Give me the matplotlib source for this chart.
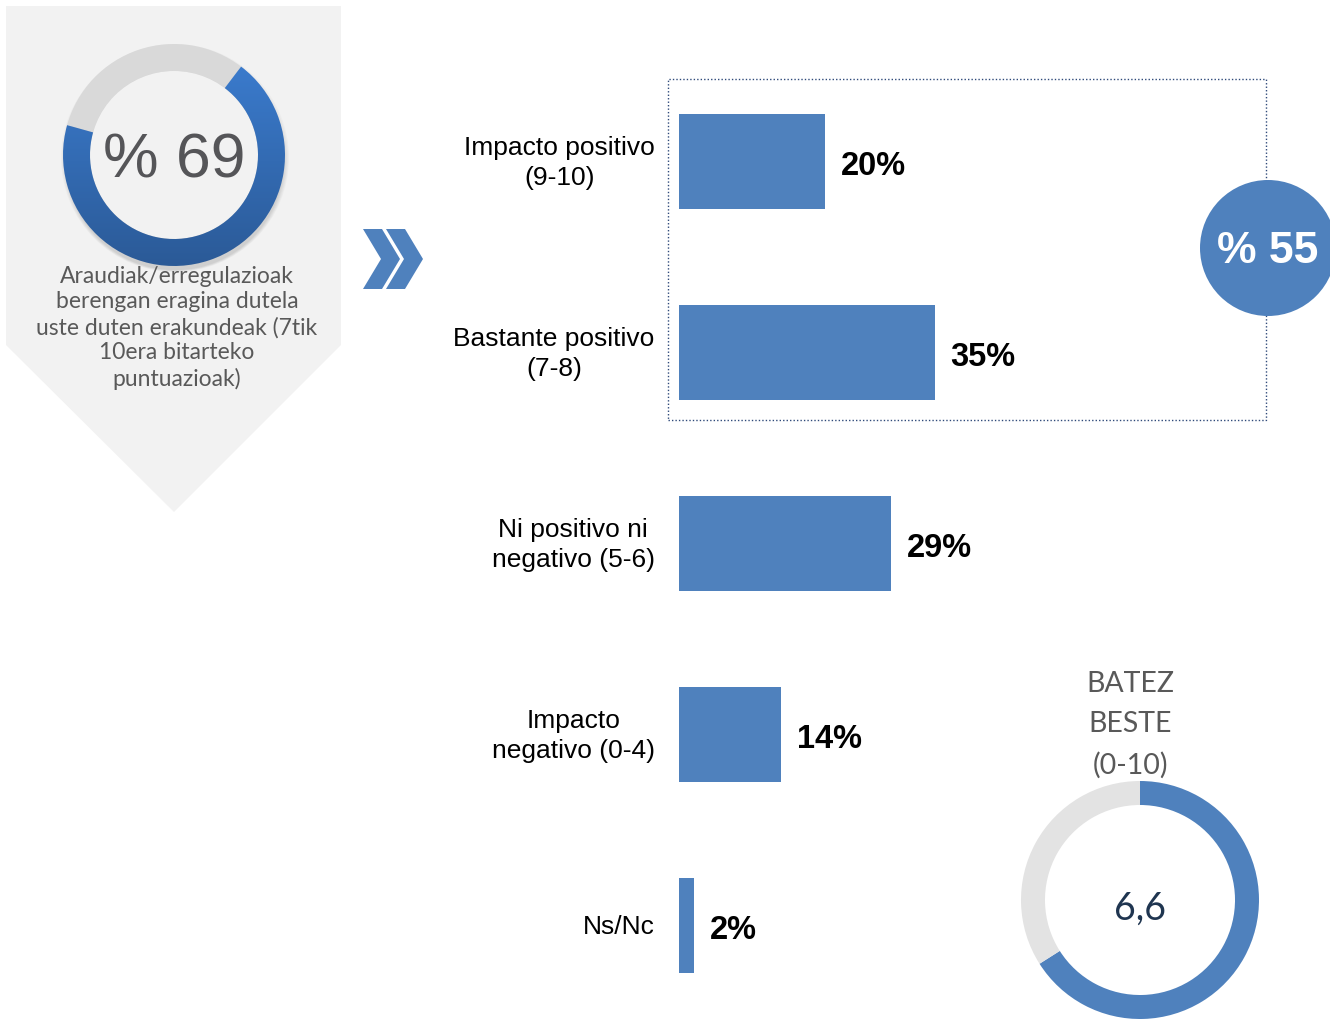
import numpy as np
import matplotlib.pyplot as plt
from matplotlib.patches import Wedge, Circle, Polygon, Rectangle
from matplotlib.colors import LinearSegmentedColormap

# data
categories = ["Impacto positivo\n(9-10)", "Bastante positivo\n(7-8)",
              "Ni positivo ni\nnegativo (5-6)", "Impacto\nnegativo (0-4)", "Ns/Nc"]
values = [20, 35, 29, 14, 2]
share_impact = 69          # % organisations that feel impact (7-10)
share_positive = 55        # 20 + 35
mean_score = 6.6           # 0-10 scale
caption = ("Araudiak/erregulazioak\nberengan eragina dutela\n"
           "uste duten erakundeak (7tik\n10era bitarteko\npuntuazioak)")

W, H = 1330, 1019
BLUE = "#4F81BD"
ARIAL = "Liberation Sans"
GOTHIC = "Lato"


def py(y):
    return H - y


fig = plt.figure(figsize=(W / 100, H / 100), dpi=100)
bg = fig.add_axes([0, 0, 1, 1])
bg.set_xlim(0, W)
bg.set_ylim(0, H)
bg.axis("off")

# left panel (arrow-shaped card)
bg.add_patch(Polygon([(6, py(6)), (341, py(6)), (341, py(345)), (174, py(512)), (6, py(345))],
                     closed=True, fc="#F2F2F2", ec="none"))

# left donut with gradient
cx, cy, r_out, ring = 174, py(155), 111, 27
for k in range(6):
    bg.add_patch(Circle((cx + 1, cy - 3 - k * 0.6), r_out + 3 - k, fc="#000000",
                        alpha=0.025, ec="none"))
start = 52.8
sweep = share_impact / 100 * 360
bg.add_patch(Wedge((cx, cy), r_out, start, start + 360 - sweep, width=ring,
                   fc="#D9D9D9", ec="none"))
blue_w = Wedge((cx, cy), r_out, start - sweep, start, width=ring, fc="none", ec="none")
bg.add_patch(blue_w)
cmap = LinearSegmentedColormap.from_list("g", ["#3C7ED2", "#2B5A97"])
grad = np.linspace(0, 1, 256).reshape(-1, 1)
im = bg.imshow(grad, cmap=cmap, extent=(cx - r_out, cx + r_out, cy - r_out, cy + r_out),
               origin="upper", aspect="auto", zorder=2)
im.set_clip_path(blue_w)
bg.add_patch(Circle((cx, cy), r_out - ring, fc="#F2F2F2", ec="none", zorder=1.5))
bg.text(cx, cy - 6, f"% {share_impact}", ha="center", va="center", fontsize=45,
        family=ARIAL, color="#555558", zorder=3)
bg.text(177, py(328), caption, ha="center", va="center", fontsize=16.5,
        family=GOTHIC, color="#595959", linespacing=1.24)

# double chevron
chev = [(0, 0), (19, 0), (37, 30), (19, 60), (0, 60), (18, 30)]
for dx in (363, 386):
    bg.add_patch(Polygon([(dx + x, py(229 + y)) for x, y in chev], closed=True,
                         fc=BLUE, ec="none"))

# dotted box around positive bars
bg.add_patch(Rectangle((668, py(420)), 598, 341, fill=False, ec="#2F4A7A",
                       lw=1, ls=(0, (1, 1.5))))
# positive share bubble
bg.add_patch(Circle((1268, py(248)), 68, fc=BLUE, ec="none", zorder=3))
bg.text(1268, py(251), f"% {share_positive}", ha="center", va="center",
        fontsize=32, weight="bold", family=ARIAL, color="white", zorder=4)

# mean score donut
mx, my, mr, mring = 1140, py(900), 119, 24
msweep = mean_score / 10 * 360
bg.add_patch(Wedge((mx, my), mr, 90 - msweep, 90, width=mring, fc=BLUE, ec="none"))
bg.add_patch(Wedge((mx, my), mr, 90, 450 - msweep, width=mring, fc="#E3E3E3", ec="none"))
bg.text(mx, my - 9, f"{mean_score:.1f}".replace(".", ","), ha="center", va="center",
        fontsize=27, family=GOTHIC, color="#1F3550")
bg.text(1130, py(725), "BATEZ\nBESTE\n(0-10)", ha="center", va="center", fontsize=20.5,
        family=GOTHIC, color="#595959", linespacing=1.68)

# bar chart
scale = 7.3  # px per percent
ax = fig.add_axes([679 / W, (H - 1021) / H, (W - 679) / W, 955 / H])
ax.patch.set_alpha(0)
ax.set_xlim(0, (W - 679) / scale)
ax.set_ylim(len(values) - 0.5, -0.5)
ax.axis("off")
ypos = np.arange(len(values))
ax.barh(ypos, values, height=0.497, color=BLUE, zorder=2)
for i, (lab, v) in enumerate(zip(categories, values)):
    ax.annotate(lab, xy=(0, i), xytext=(-17.5, -1), textcoords="offset points",
                ha="right", va="center", multialignment="center", fontsize=19,
                family=ARIAL, color="black", linespacing=1.34)
    ax.annotate(f"{v}%", xy=(v, i), xytext=(11.5, -3.5), textcoords="offset points",
                ha="left", va="center", fontsize=23.5, weight="bold",
                family=ARIAL, color="black")

fig.savefig("out.png", dpi=100)
